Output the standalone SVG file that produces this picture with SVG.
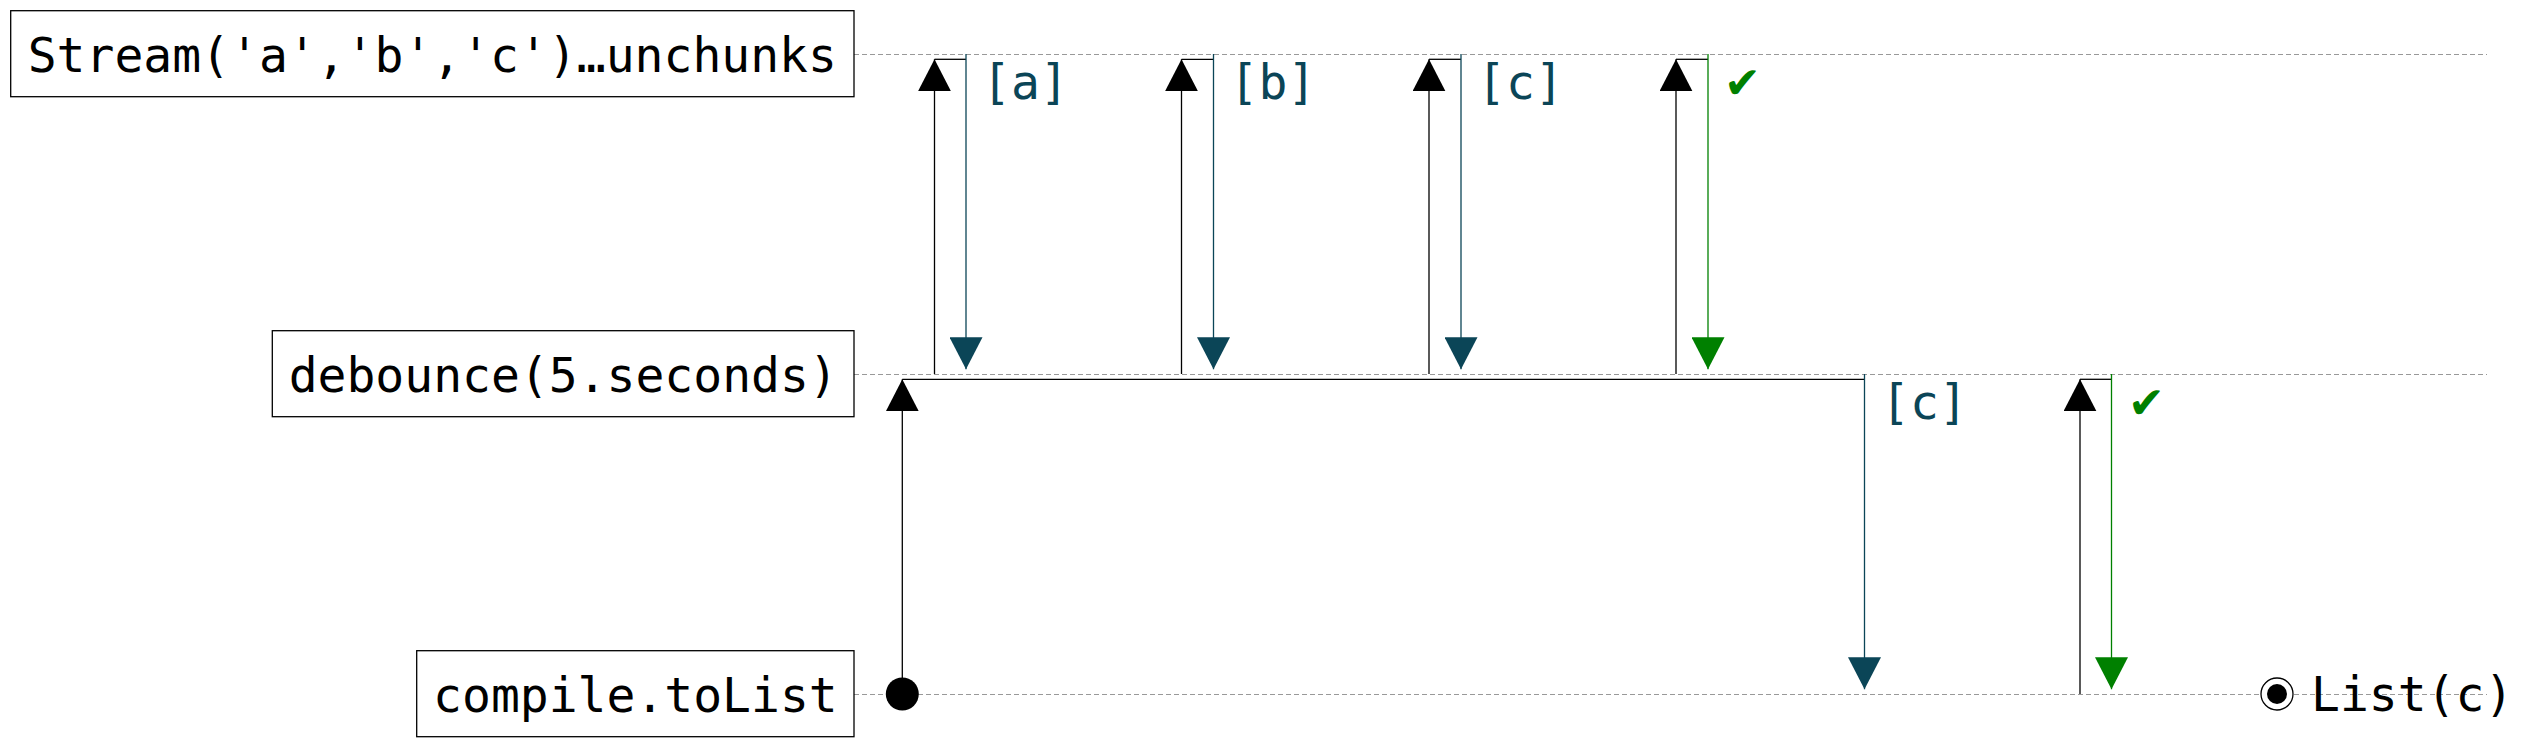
<svg xmlns="http://www.w3.org/2000/svg" width="2522" height="748" viewBox="0 0 2522 748">
<style>
.box{fill:#fff;stroke:#000;stroke-width:1.3}
.t{font-family:"DejaVu Sans Mono","Liberation Mono",monospace;font-size:48px;fill:#000}
.life{stroke:#999;stroke-width:1.2;stroke-dasharray:5 3;fill:none}
.up{stroke:#000;stroke-width:1.3;fill:none}
.dn{stroke:#0b4557;stroke-width:1.3;fill:none}
.dng{stroke:#008000;stroke-width:1.3;fill:none}
.lbl{font-family:"DejaVu Sans Mono","Liberation Mono",monospace;font-size:48px;fill:#0b4557}
.chk{font-family:"DejaVu Sans","Noto Sans",sans-serif;font-size:44px;fill:#008000}
</style>
<defs>
<marker id="ah" markerUnits="userSpaceOnUse" markerWidth="33" markerHeight="33" refX="32" refY="16.5" orient="auto"><path d="M0,0 L32,16.5 L0,33 z" fill="#000"/></marker>
<marker id="ahT" markerUnits="userSpaceOnUse" markerWidth="33" markerHeight="33" refX="32" refY="16.5" orient="auto"><path d="M0,0 L32,16.5 L0,33 z" fill="#0b4557"/></marker>
<marker id="ahG" markerUnits="userSpaceOnUse" markerWidth="33" markerHeight="33" refX="32" refY="16.5" orient="auto"><path d="M0,0 L32,16.5 L0,33 z" fill="#008000"/></marker>
</defs>
<rect width="2522" height="748" fill="#fff"/>
<g id="lifelines">
<line class="life" x1="854" y1="54.5" x2="2487" y2="54.5"/>
<line class="life" x1="854" y1="374.5" x2="2487" y2="374.5"/>
<line class="life" x1="854" y1="694.5" x2="2487" y2="694.5"/>
</g>
<g id="node-stream">
<rect class="box" x="10.7" y="10.7" width="843.3" height="86"/>
<text class="t" x="432.3" y="71.7" text-anchor="middle">Stream('a','b','c')…unchunks</text>
</g>
<g id="node-debounce">
<rect class="box" x="272.3" y="330.7" width="581.7" height="86"/>
<text class="t" x="563.2" y="391.7" text-anchor="middle">debounce(5.seconds)</text>
</g>
<g id="node-compile">
<rect class="box" x="416.7" y="650.7" width="437.3" height="86"/>
<text class="t" x="635.4" y="711.7" text-anchor="middle">compile.toList</text>
</g>
<g id="connectors">
<path class="up" d="M934.5,374 V59.3" marker-end="url(#ah)"/>
<path class="up" d="M934.5,59.3 H966"/>
<path class="dn" d="M966,54 V369.3" marker-end="url(#ahT)"/>
<path class="up" d="M1181.5,374 V59.3" marker-end="url(#ah)"/>
<path class="up" d="M1181.5,59.3 H1213.5"/>
<path class="dn" d="M1213.5,54 V369.3" marker-end="url(#ahT)"/>
<path class="up" d="M1429,374 V59.3" marker-end="url(#ah)"/>
<path class="up" d="M1429,59.3 H1461"/>
<path class="dn" d="M1461,54 V369.3" marker-end="url(#ahT)"/>
<path class="up" d="M1676,374 V59.3" marker-end="url(#ah)"/>
<path class="up" d="M1676,59.3 H1708"/>
<path class="dng" d="M1708,54 V369.3" marker-end="url(#ahG)"/>
<path class="up" d="M902.3,694 V379.3" marker-end="url(#ah)"/>
<path class="up" d="M902.3,379.3 H1864.5"/>
<path class="dn" d="M1864.5,374 V689.3" marker-end="url(#ahT)"/>
<path class="up" d="M2080,694 V379.3" marker-end="url(#ah)"/>
<path class="up" d="M2080,379.3 H2111.5"/>
<path class="dng" d="M2111.5,374 V689.3" marker-end="url(#ahG)"/>
</g>
<g id="labels">
<text class="lbl" x="982" y="99">[a]</text>
<text class="lbl" x="1229.5" y="99">[b]</text>
<text class="lbl" x="1477" y="99">[c]</text>
<text class="chk" x="1724" y="98">✔</text>
<text class="lbl" x="1881" y="419">[c]</text>
<text class="chk" x="2128" y="418">✔</text>
</g>
<g id="start">
<circle cx="902.3" cy="694" r="16.5" fill="#000"/>
</g>
<g id="end">
<circle cx="2277" cy="694" r="16" fill="#fff" stroke="#000" stroke-width="1.3"/>
<circle cx="2277" cy="694" r="10" fill="#000"/>
<text class="t" x="2311" y="711">List(c)</text>
</g>
</svg>
